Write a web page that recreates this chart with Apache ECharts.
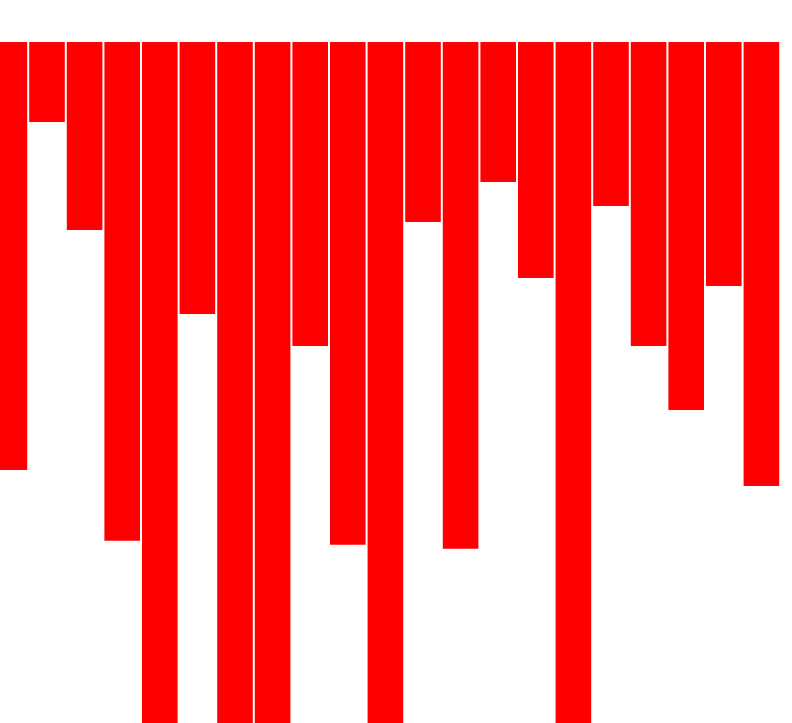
<!DOCTYPE html>
<html>
<head>
<meta charset="utf-8">
<script src="https://cdn.jsdelivr.net/npm/echarts@6/dist/echarts.min.js"></script>
<style>
  html, body { margin: 0; padding: 0; background: #fff; }
  #main { width: 792px; height: 723px; }
</style>
</head>
<body>
<div id="main"></div>
<script>
// categories and values (bars hang from the top)
const categories = ['A', 'B', 'C', 'D', 'E', 'F', 'G', 'H', 'I', 'J', 'K',
  'L', 'M', 'N', 'O', 'P', 'Q', 'R', 'S', 'T', 'U']
const values = [107, 20, 47, 124.7, 180, 68, 190, 175, 76, 125.7, 185,
  45, 126.7, 35, 59, 180, 41, 76, 92, 61, 111]

// first bar is cut by the left edge, so a value x axis places them
const data = values.map((v, i) => ({ name: categories[i], value: [i, v] }))

const chart = echarts.init(document.getElementById('main'))
chart.setOption({
  animation: false,
  backgroundColor: '#fff',
  grid: { left: 0, right: 0, top: 42, bottom: 0 },
  xAxis: {
    type: 'value',
    min: -0.25,
    max: 20.814,
    show: false
  },
  yAxis: {
    type: 'value',
    inverse: true,
    min: 0,
    max: 170.25,
    show: false
  },
  series: [{
    type: 'bar',
    data: data,
    barWidth: 35.6,
    itemStyle: { color: '#ff0000' }
  }]
})
</script>
</body>
</html>
